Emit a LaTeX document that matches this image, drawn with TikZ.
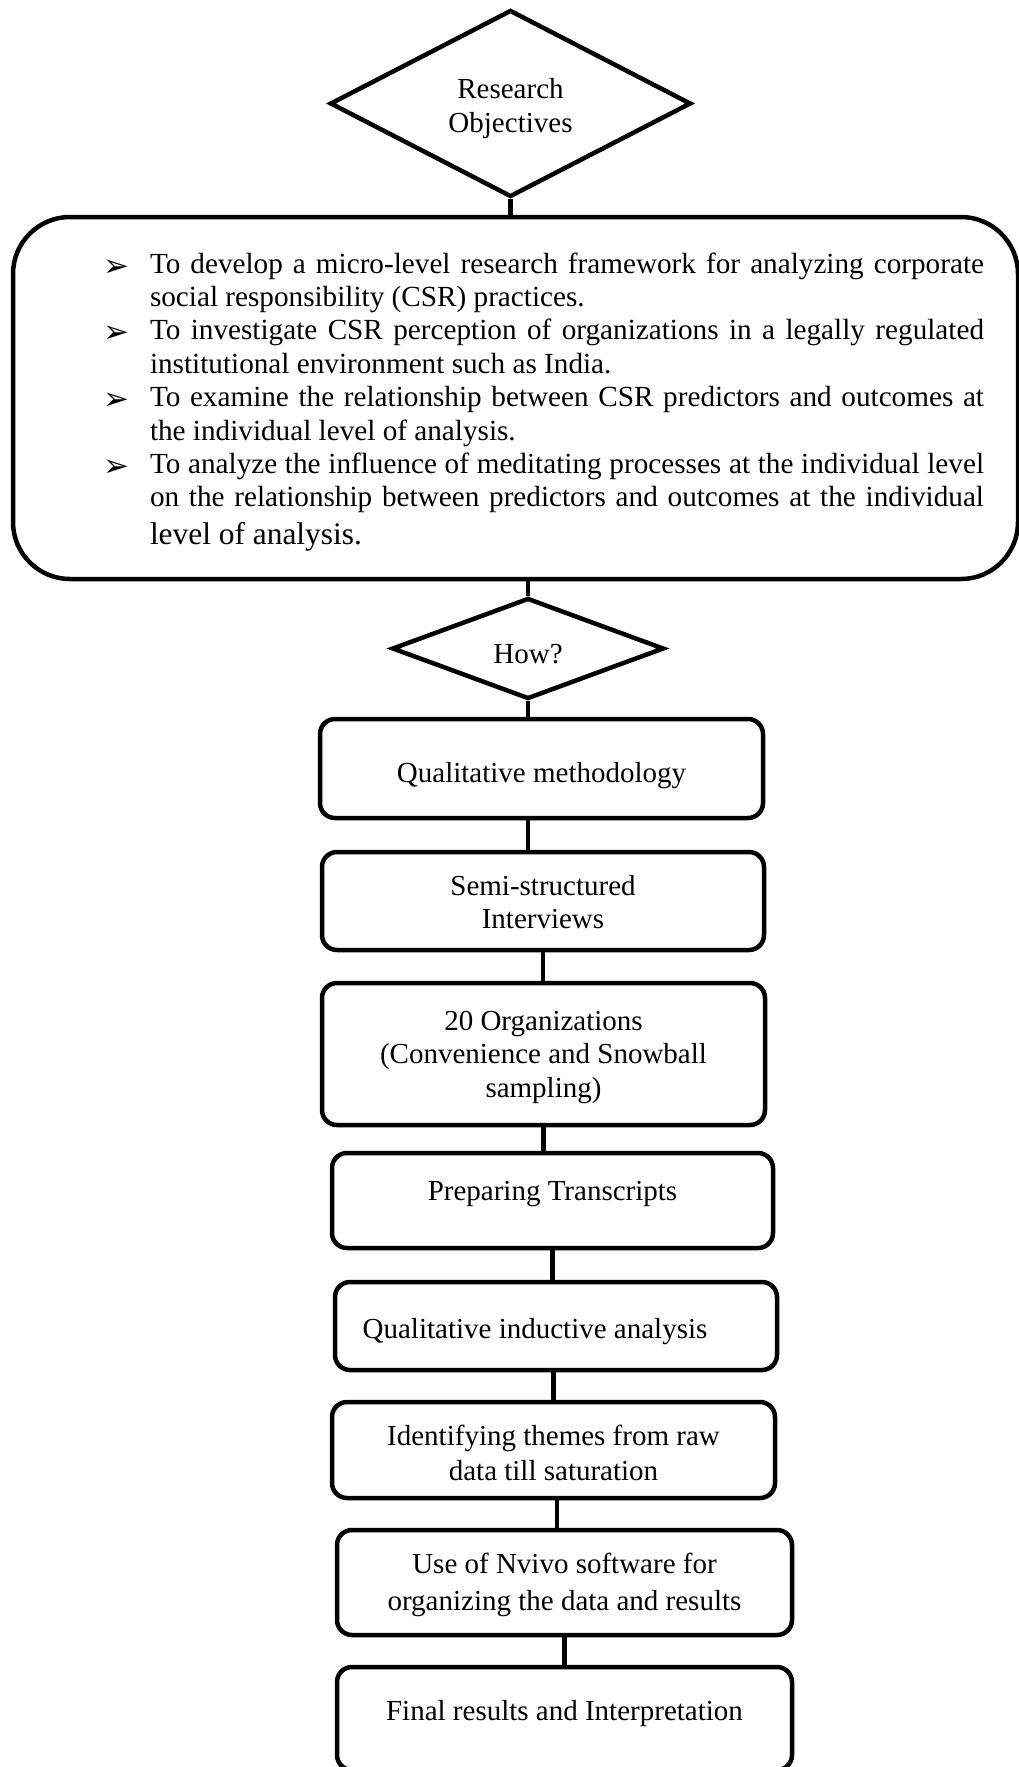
\documentclass[tikz,border=0pt]{standalone}
\usepackage{fontspec}
\setmainfont{Liberation Serif}
\newfontfamily\symfont{DejaVu Sans}
\usetikzlibrary{shapes.geometric}

% invisible struts that fix the vertical extent of a node's text
\newcommand\toppad[1]{\rule{0pt}{#1pt}}
\newcommand\botpad[1]{\rule[-#1pt]{0pt}{0pt}}
% bullet list lines of the objectives box
\newcommand\arrowmark{\raisebox{-3pt}{\symfont\fontsize{31}{31}\selectfont ➢}}
\newcommand\objfirst[1]{\hbox to 937pt{\hskip56pt\hbox to 47pt{\arrowmark\hss}\hbox to 834pt{#1}}}
\newcommand\objjust[1]{\hbox to 937pt{\hskip103pt\hbox to 834pt{#1}}}
\newcommand\objend[1]{\hbox to 937pt{\hskip103pt\hbox to 834pt{#1\hfil}}}

\tikzset{
  thick line/.style={line width=4.5pt},
  decision/.style={diamond, draw, thick line, inner sep=0pt, align=center,
    font=\fontsize{29}{34}\selectfont},
  stepbox/.style={rectangle, draw, thick line, rounded corners=15pt,
    inner sep=0pt, align=center, font=\fontsize{29}{33.5}\selectfont},
  bigbox/.style={rectangle, draw, thick line, rounded corners=57pt,
    inner sep=0pt, font=\fontsize{29.2}{33.4}\selectfont},
  link/.style={thick line}
}

\begin{document}
\begin{tikzpicture}[x=1pt, y=-1pt]
\useasboundingbox (0,0) rectangle (1019,1767);

% decision: research objectives
\node[decision, aspect=1.93, minimum width=361pt, minimum height=187pt]
  (ro) at (510.5,103.5) {\toppad{30}Research\\Objectives\botpad{7}};

% list of objectives
\node[bigbox, minimum width=1005pt, minimum height=362pt] (obj) at (515.5,398) {%
  \vtop{\baselineskip=33.4pt
    \objfirst{\toppad{29}To develop a micro-level research framework for analyzing corporate}
    \objend{social responsibility (CSR) practices.}
    \objfirst{To investigate CSR perception of organizations in a legally regulated}
    \objend{institutional environment such as India.}
    \objfirst{To examine the relationship between CSR predictors and outcomes at}
    \objend{the individual level of analysis.}
    \objfirst{To analyze the influence of meditating processes at the individual level}
    \objjust{on the relationship between predictors and outcomes at the individual}
    \baselineskip=38pt
    \objend{\fontsize{31.4}{38}\selectfont level of analysis.\botpad{7}}}};

% decision: how?
\node[decision, aspect=2.7, minimum width=272pt, minimum height=101pt]
  (how) at (528,648.5) {\toppad{36}How?\botpad{7}};

% method steps
\node[stepbox, minimum width=443pt, minimum height=99pt] (qm) at (541.5,768.5)
  {\toppad{34}Qualitative methodology\botpad{7}};
\node[stepbox, minimum width=442pt, minimum height=98pt,
  font=\fontsize{29}{33}\selectfont] (ss) at (543,901)
  {\toppad{28}Semi-structured\\Interviews\botpad{7}};
\node[stepbox, minimum width=443pt, minimum height=142pt] (org) at (543.5,1054)
  {\toppad{26}20 Organizations\\(Convenience and Snowball\\sampling)\botpad{7}};
\node[stepbox, minimum width=441pt, minimum height=95pt] (pt) at (552.5,1200.5)
  {\toppad{22}Preparing Transcripts\botpad{23}};
\node[stepbox, minimum width=442pt, minimum height=88pt] (qi) at (556,1326)
  {\toppad{31}Qualitative inductive analysis\hspace*{42pt}\botpad{7}};
\node[stepbox, minimum width=443pt, minimum height=96pt,
  font=\fontsize{29}{35}\selectfont] (it) at (553.5,1450)
  {\toppad{32}Identifying themes from raw\\data till saturation\botpad{7}};
\node[stepbox, minimum width=455pt, minimum height=105pt,
  font=\fontsize{29}{37}\selectfont] (nv) at (564.5,1582.5)
  {\toppad{25}Use of Nvivo software for\\organizing the data and results\botpad{7}};
\node[stepbox, minimum width=455pt, minimum height=103pt] (fr) at (564.5,1718.5)
  {\toppad{22}Final results and Interpretation\botpad{19}};

% connectors
\draw[link] (ro.south) -- (ro.south |- obj.north);
\draw[link] (how.north) -- (how.north |- obj.south);
\draw[link] (how.south) -- (how.south |- qm.north);
\draw[link] (qm.south -| how.south) -- (ss.north -| how.south);
\draw[link] (ss.south) -- (ss.south |- org.north);
\draw[link] (org.south) -- (org.south |- pt.north);
\draw[link] (pt.south) -- (pt.south |- qi.north);
\draw[link] (it.north |- qi.south) -- (it.north);
\draw[link] ([xshift=3.5pt]it.south) -- ([xshift=3.5pt]it.south |- nv.north);
\draw[link] (nv.south) -- (nv.south |- fr.north);
\end{tikzpicture}
\end{document}
